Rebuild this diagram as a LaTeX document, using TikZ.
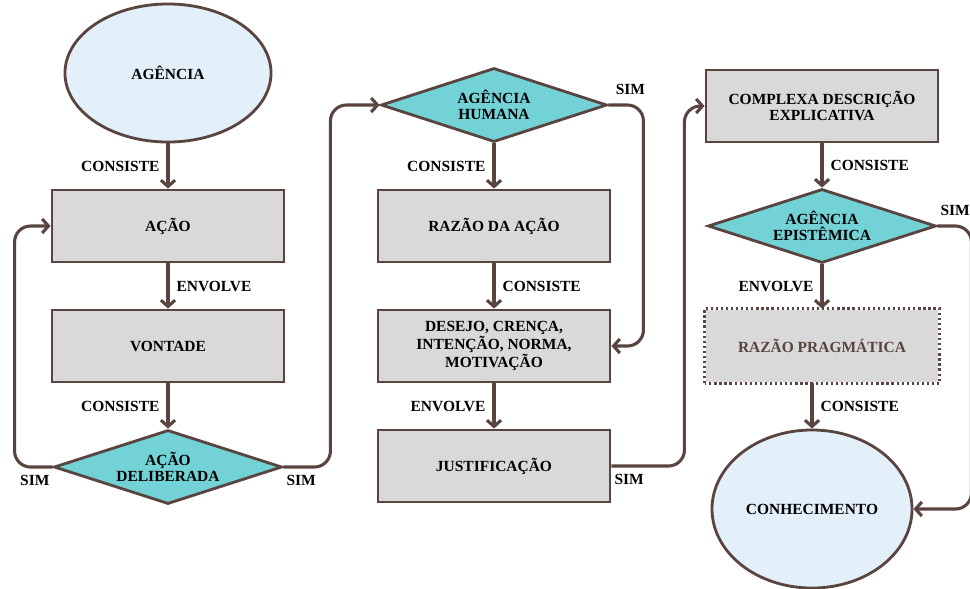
\documentclass[tikz,border=0pt]{standalone}
\usepackage{fontspec}
\setmainfont{Liberation Serif}
\usepackage{tikz}
\usetikzlibrary{positioning,shapes.geometric,arrows.meta}
\definecolor{linebrown}{RGB}{89,68,64}
\definecolor{boxgray}{RGB}{217,217,217}
\definecolor{diamondcyan}{RGB}{114,210,214}
\definecolor{ellipseblue}{RGB}{227,240,250}

\begin{document}
\begin{tikzpicture}[x=0.025cm,y=-0.025cm,
  font=\fontsize{11}{11.5}\selectfont\bfseries,
  box/.style={draw=linebrown,line width=2pt,fill=boxgray,minimum width=5.8cm,minimum height=1.8cm,align=center},
  choice/.style={diamond,draw=linebrown,line width=2pt,fill=diamondcyan,shape aspect=3,inner sep=0pt,minimum width=5.7cm,minimum height=1.85cm,align=center},
  blob/.style={ellipse,draw=linebrown,line width=2pt,fill=ellipseblue,align=center},
  link/.style={draw=linebrown,line width=2.2pt,-{Straight Barb[length=4.5pt,width=10pt]}},
  lbl/.style={inner sep=2pt},
  simbelow/.style={lbl,yshift=-3.5pt},
  simabove/.style={lbl,yshift=5pt}]
    \useasboundingbox (0,0) rectangle (970,588);

    % first column
    \node (agencia) [blob,minimum width=5.15cm,minimum height=3.45cm] at (168,73) {AGÊNCIA};
    \node (acao) [box] at (168,226) {AÇÃO};
    \node (vontade) [box] at (168,346) {VONTADE};
    \node (acao_deliberada)
    [choice,
      label={[simbelow,anchor=north east]west:SIM},
      label={[simbelow,anchor=north west]east:SIM}
    ] at (168,467) {AÇÃO\\DELIBERADA};

    % second column
    \node (agencia_humana)
    [choice,minimum width=5.65cm,
      label={[simabove,anchor=south west,xshift=3pt]east:SIM}
    ] at (494,105) {AGÊNCIA\\HUMANA};
    \node (razao_acao) [box] at (494,226) {RAZÃO DA AÇÃO};
    \node (desejo) [box] at (494,346) {DESEJO, CRENÇA,\\INTENÇÃO, NORMA,\\MOTIVAÇÃO};
    \node (justificacao)
    [box,
      label={[simbelow,anchor=north west]east:SIM}
    ] at (494,466) {JUSTIFICAÇÃO};

    % third column
    \node (complexa) [box] at (822,106) {COMPLEXA DESCRIÇÃO\\EXPLICATIVA};
    \node (agencia_epistemica)
    [choice,
      label={[simabove,anchor=south west]east:SIM}
    ] at (822,226) {AGÊNCIA\\EPISTÊMICA};
    \node (razao_pragmatica)
    [box,draw=none,text=linebrown] at (822,346) {RAZÃO PRAGMÁTICA};
    \draw [linebrown,line width=1.6pt,dotted] (razao_pragmatica.south west) rectangle (razao_pragmatica.north east);
    \node (conhecimento) [blob,minimum width=4.8cm,minimum height=3.95cm] at (812,509) {CONHECIMENTO};

    % straight links
    \draw [link] (agencia) -- node [lbl,left=3pt] {CONSISTE} (acao);
    \draw [link] (acao) -- node [lbl,right=3pt] {ENVOLVE} (vontade);
    \draw [link] (vontade) -- node [lbl,left=3pt] {CONSISTE} (acao_deliberada);
    \draw [link] (agencia_humana) -- node [lbl,left=3pt] {CONSISTE} (razao_acao);
    \draw [link] (razao_acao) -- node [lbl,right=3pt] {CONSISTE} (desejo);
    \draw [link] (desejo) -- node [lbl,left=3pt] {ENVOLVE} (justificacao);
    \draw [link] (complexa) -- node [lbl,right=3pt] {CONSISTE} (agencia_epistemica);
    \draw [link] (agencia_epistemica) -- node [lbl,left=3pt] {ENVOLVE} (razao_pragmatica);
    \draw [link] (razao_pragmatica.south -| conhecimento.north) -- node [lbl,right=3pt] {CONSISTE} (conhecimento.north);

    % loops
    \draw [link,rounded corners=0.4cm] (acao_deliberada.west) -- ++(-38,0) |- (acao.west);
    \draw [link,rounded corners=0.4cm] (acao_deliberada.east) -- ++(47,0) |- (agencia_humana.west);
    \draw [link,rounded corners=0.4cm] (agencia_humana.east) -- ++(35,0) |- (desejo.east);
    \draw [link,rounded corners=0.4cm] (justificacao.east) -- ++(73,0) |- (complexa.west);
    \draw [link,rounded corners=0.4cm] (agencia_epistemica.east) -- ++(34,0) |- (conhecimento.east);
  \end{tikzpicture}
\end{document}
